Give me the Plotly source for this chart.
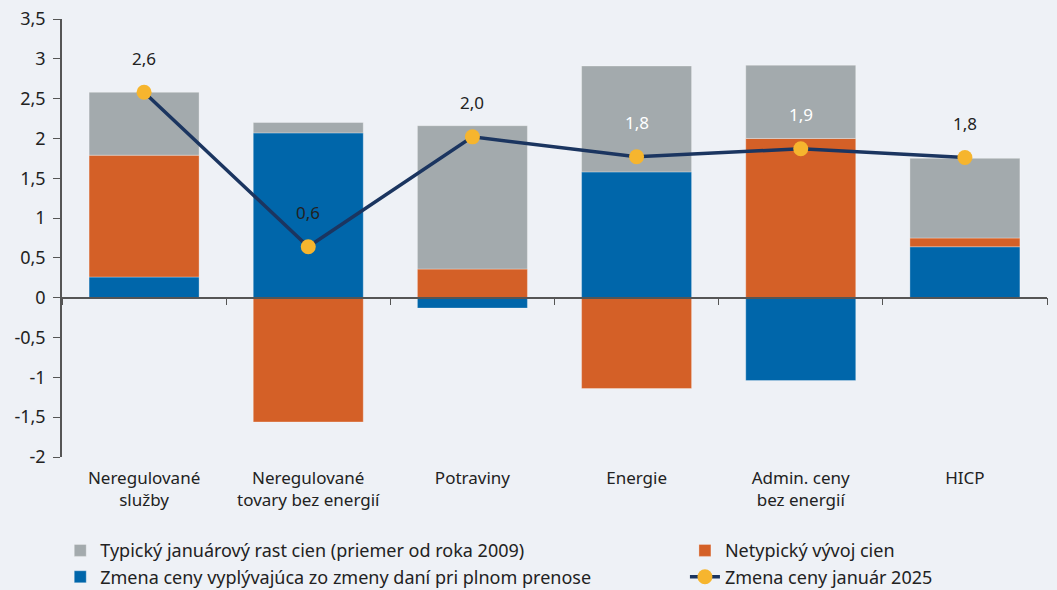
import plotly.graph_objects as go

# categories and component values
categories = ['Neregulované<br>služby', 'Neregulované<br>tovary bez energií',
              'Potraviny', 'Energie', 'Admin. ceny<br>bez energií', 'HICP']
tax_change = [0.26, 2.07, -0.13, 1.58, -1.04, 0.64]
atypical = [1.53, -1.56, 0.36, -1.14, 2.00, 0.11]
typical_jan = [0.79, 0.13, 1.80, 1.33, 0.92, 1.00]
jan_2025 = [2.58, 0.64, 2.02, 1.77, 1.87, 1.76]

y_range = [-2, 3.5]
y_ticks = [-2, -1.5, -1, -0.5, 0, 0.5, 1, 1.5, 2, 2.5, 3, 3.5]

BG = '#EEF1F6'
GRAY = '#A3AAAD'
ORANGE = '#D46027'
BLUE = '#0066AA'
NAVY = '#1B3560'
YELLOW = '#F6B52E'
FONT = 'Noto Sans'
EDGE = dict(width=0.6, color='rgba(255,255,255,0.5)')

fig = go.Figure()
fig.add_trace(go.Bar(x=categories, y=tax_change, name='Zmena ceny vyplývajúca zo zmeny daní pri plnom prenose',
                     marker_color=BLUE, marker_line=EDGE, legend='legend', legendrank=2))
fig.add_trace(go.Bar(x=categories, y=atypical, name='Netypický vývoj cien',
                     marker_color=ORANGE, marker_line=EDGE, legend='legend2', legendrank=1))
fig.add_trace(go.Bar(x=categories, y=typical_jan, name='Typický januárový rast cien (priemer od roka 2009)',
                     marker_color=GRAY, marker_line=EDGE, legend='legend', legendrank=1))
fig.add_trace(go.Scatter(x=categories, y=jan_2025, name='Zmena ceny január 2025',
                         xaxis='x2', mode='lines+markers',
                         line=dict(color=NAVY, width=3.5),
                         marker=dict(color=YELLOW, size=15),
                         legend='legend2', legendrank=2))

# value labels above the markers, white where they sit on a gray bar
label_colors = ['#222222', '#222222', '#222222', '#FFFFFF', '#FFFFFF', '#222222']
for cat, v, col in zip(categories, jan_2025, label_colors):
    fig.add_annotation(x=cat, y=v, xref='x2', yref='y', yshift=34,
                       text=f'{v:.1f}'.replace('.', ','), showarrow=False,
                       font=dict(family=FONT, size=17, color=col))

legend_style = dict(orientation='v', xref='container', xanchor='left',
                    y=0.098, yref='container', yanchor='top',
                    traceorder='normal', font=dict(size=18),
                    bgcolor='rgba(0,0,0,0)', tracegroupgap=0)

fig.update_layout(
    width=1057, height=590,
    paper_bgcolor=BG, plot_bgcolor=BG,
    barmode='relative', bargap=0.33,
    separators=', ',
    margin=dict(l=62, r=10, t=19, b=133, autoexpand=False),
    font=dict(family=FONT, size=17, color='#222222'),
    showlegend=True,
    legend=dict(x=0.057, **legend_style),
    legend2=dict(x=0.648, **legend_style),
    xaxis=dict(type='category', showline=False, ticks='', showgrid=False,
               zeroline=False, ticklabelstandoff=9),
    xaxis2=dict(type='category', overlaying='x', matches='x', anchor='free',
                position=(0 - y_range[0]) / (y_range[1] - y_range[0]),
                showline=True, linecolor='#555555', linewidth=1.5,
                ticks='outside', ticklen=7, tickcolor='#555555',
                tickson='boundaries', showticklabels=False, showgrid=False),
    yaxis=dict(range=y_range, tickvals=y_ticks,
               ticktext=[f'{t:g}'.replace('.', ',') for t in y_ticks],
               tickfont=dict(size=18),
               showgrid=False, zeroline=False,
               showline=True, linecolor='#555555', linewidth=1.5,
               ticks='outside', ticklen=7, tickcolor='#555555',
               ticklabelstandoff=4),
)

fig.write_html('out.html', config={'displayModeBar': False},
               post_script="document.body.style.margin='0';")
